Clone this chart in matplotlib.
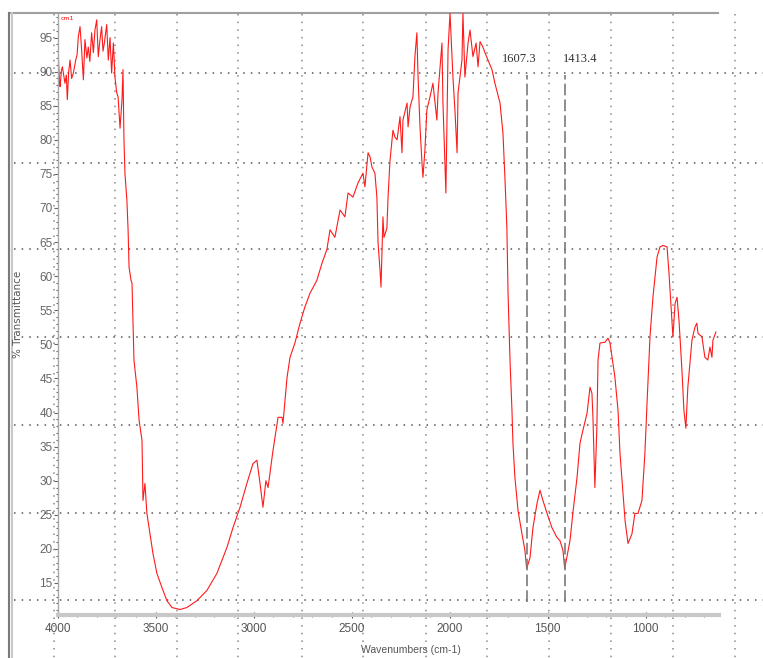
import matplotlib
matplotlib.use("Agg")
import matplotlib.pyplot as plt
from matplotlib.lines import Line2D
from matplotlib.ticker import MultipleLocator

# FTIR spectrum (wavenumber in cm-1, % transmittance)
wavenumber = [3998, 3995, 3990, 3987, 3980, 3975, 3962, 3955, 3950, 3943, 3936, 3928,
              3919, 3907, 3900, 3894, 3885, 3877, 3868, 3860, 3850, 3843, 3835, 3826,
              3817, 3809, 3800, 3792, 3784, 3775, 3768, 3761, 3749, 3741, 3732, 3724,
              3715, 3707, 3698, 3691, 3681, 3671, 3666, 3661, 3656, 3646, 3640, 3635,
              3625, 3620, 3615, 3610, 3595, 3584, 3569, 3564, 3554, 3544, 3528, 3513,
              3493, 3467, 3442, 3416, 3375, 3340, 3289, 3238, 3187, 3136, 3105, 3069,
              3034, 3003, 2983, 2967, 2952, 2937, 2926, 2901, 2875, 2855, 2850, 2829,
              2814, 2789, 2763, 2738, 2712, 2677, 2651, 2626, 2610, 2585, 2559, 2534,
              2518, 2493, 2467, 2442, 2432, 2416, 2406, 2396, 2381, 2371, 2365, 2355,
              2350, 2340, 2335, 2320, 2314, 2304, 2289, 2279, 2268, 2253, 2243, 2238,
              2217, 2212, 2202, 2187, 2177, 2167, 2161, 2151, 2141, 2136, 2126, 2116,
              2100, 2085, 2065, 2059, 2039, 2034, 2019, 2008, 1998, 1983, 1973, 1962,
              1957, 1937, 1932, 1922, 1906, 1896, 1881, 1865, 1855, 1845, 1830, 1820,
              1804, 1784, 1769, 1743, 1728, 1718, 1708, 1702, 1692, 1682, 1677, 1667,
              1651, 1631, 1616, 1607, 1590, 1575, 1554, 1539, 1524, 1503, 1478, 1453,
              1437, 1422, 1413, 1386, 1370, 1350, 1335, 1320, 1299, 1284, 1274, 1269,
              1259, 1249, 1243, 1233, 1208, 1192, 1182, 1157, 1141, 1131, 1105, 1090,
              1070, 1055, 1039, 1019, 1004, 993, 978, 963, 942, 927, 912, 891,
              881, 866, 861, 850, 840, 830, 815, 805, 795, 785, 764, 749,
              739, 733, 713, 698, 683, 672, 662, 657, 642]
transmittance = [90.0, 91.7, 88.5, 87.8, 90.2, 90.7, 88.3, 89.5, 85.9, 90.0, 91.7, 89.0,
                 89.8, 91.7, 92.5, 95.1, 96.6, 93.2, 88.8, 94.7, 92.0, 93.6, 91.5, 95.7,
                 92.8, 96.1, 97.6, 92.2, 94.5, 96.6, 93.0, 94.2, 96.9, 91.7, 95.0, 89.8,
                 94.2, 89.2, 86.9, 86.3, 81.7, 85.9, 90.3, 80.0, 75.1, 71.1, 66.8, 61.3,
                 59.4, 59.0, 53.5, 47.7, 43.7, 38.9, 35.9, 27.1, 29.6, 25.2, 22.2, 19.3,
                 16.4, 14.3, 12.4, 11.4, 11.1, 11.4, 12.4, 13.9, 16.4, 20.2, 23.1, 26.1,
                 29.6, 32.5, 33.0, 29.6, 26.1, 30.0, 29.0, 34.4, 39.3, 39.3, 38.4, 45.2,
                 48.1, 50.2, 53.1, 55.5, 57.5, 59.4, 61.9, 63.9, 66.8, 65.7, 69.7, 68.7,
                 72.2, 71.6, 73.7, 75.1, 73.1, 78.1, 77.5, 76.0, 75.1, 71.6, 64.9, 60.9,
                 58.4, 68.7, 65.7, 67.0, 71.6, 77.0, 81.4, 80.4, 80.0, 83.4, 78.1, 82.9,
                 85.4, 81.9, 84.8, 86.3, 92.2, 95.7, 89.2, 81.9, 76.6, 74.5, 78.5, 84.4,
                 86.3, 88.3, 82.9, 86.9, 94.2, 85.4, 72.2, 93.2, 98.6, 89.2, 84.4, 78.1,
                 86.9, 91.7, 98.6, 89.2, 94.2, 96.1, 92.2, 94.2, 90.7, 94.4, 93.6, 92.8,
                 91.7, 90.3, 88.3, 85.4, 81.0, 74.5, 67.2, 57.5, 47.7, 40.3, 35.5, 30.5,
                 25.6, 22.2, 19.8, 17.1, 18.7, 23.1, 26.7, 28.6, 27.1, 25.2, 23.1, 21.7,
                 21.2, 19.8, 17.1, 21.2, 25.6, 30.5, 35.5, 37.4, 39.9, 43.7, 42.8, 39.3,
                 29.0, 37.8, 47.7, 50.2, 50.3, 50.9, 50.2, 45.2, 40.3, 34.0, 24.1, 20.8,
                 22.2, 25.2, 25.2, 27.1, 34.0, 41.4, 51.1, 56.9, 62.8, 64.3, 64.5, 64.3,
                 60.4, 53.5, 51.1, 56.0, 56.9, 53.5, 46.2, 40.3, 37.7, 43.7, 50.6, 52.5,
                 53.1, 51.6, 51.1, 48.1, 47.7, 49.6, 48.1, 50.6, 51.8]

peaks = [1607.3, 1413.4]
peak_labels = ["1607.3", "1413.4"]
yticks = list(range(15, 100, 5))
xticks = [4000, 3500, 3000, 2500, 2000, 1500, 1000]

W, H = 763, 658
fig = plt.figure(figsize=(W / 100, H / 100), dpi=100)
fig.patch.set_facecolor("white")

def fx(px):
    return px / W

def fy(py):
    return 1 - py / H

# window frame
fig.add_artist(Line2D([fx(9), fx(718)], [fy(13), fy(13)], color="#a0a0a0", lw=1.5, zorder=-1))
fig.add_artist(Line2D([fx(9), fx(9)], [fy(13), 0], color="#7a7a7a", lw=1.5, zorder=-1))
fig.add_artist(Line2D([fx(11.5), fx(11.5)], [fy(13), 0], color="#c8c8c8", lw=1.5, zorder=-1))

# dotted overlay grid covering the whole window
for px in [54, 115, 177, 238, 302, 363, 426, 487, 549, 611, 673, 735]:
    fig.add_artist(Line2D([fx(px), fx(px)], [fy(14), 0], color="#8a8a8a", lw=1.1,
                          linestyle=(0, (1, 4)), zorder=-1))
for py in [73, 163, 249, 337, 425, 513, 600]:
    fig.add_artist(Line2D([fx(14), 1], [fy(py), fy(py)], color="#555555", lw=1.1,
                          linestyle=(0, (1, 4)), zorder=-1))

ax = fig.add_axes([fx(57.5), fy(615), fx(719) - fx(57.5), fy(13) - fy(615)])
ax.patch.set_visible(False)

ax.plot(wavenumber, transmittance, color="#ff1a1a", lw=0.8)

for p in peaks:
    ax.plot([p, p], [12.2, 89.5], color="#7a7a7a", lw=1.2, linestyle=(0, (7, 2.5)))
ax.text(1646, 91.9, peak_labels[0], ha="center", va="center", fontsize=9,
        family="Liberation Serif", color="#333333")
ax.text(1333, 91.9, peak_labels[1], ha="center", va="center", fontsize=9,
        family="Liberation Serif", color="#333333")
ax.text(3985, 97.8, "cm1", fontsize=4.5, color="red", va="center")

ax.set_xlim(4000, 626)
ax.set_ylim(10.3, 98.6)
ax.set_xticks(xticks)
ax.set_yticks(yticks)
ax.xaxis.set_minor_locator(MultipleLocator(100))
ax.yaxis.set_minor_locator(MultipleLocator(1))

for s in ["top", "right"]:
    ax.spines[s].set_visible(False)
ax.spines["left"].set_color("#a8a8a8")
ax.spines["left"].set_linewidth(1.0)
ax.spines["bottom"].set_color("#c8c8c8")
ax.spines["bottom"].set_linewidth(3.0)

tick_font = ["Liberation Sans Narrow", "Liberation Sans", "DejaVu Sans"]
ax.tick_params(axis="y", which="major", length=3, width=0.8, color="#666666",
               labelcolor="#666666", labelsize=8.5, pad=0.5)
ax.tick_params(axis="y", which="minor", length=1.5, width=0.8, color="#666666")
ax.tick_params(axis="x", which="major", length=4, width=0.8, direction="inout",
               color="#555555", labelcolor="#555555", labelsize=8.5, pad=4)
ax.tick_params(axis="x", which="minor", length=3, width=0.8, direction="inout",
               color="#777777")
for lab in ax.get_xticklabels() + ax.get_yticklabels():
    lab.set_family(tick_font)

fig.text(fx(411), fy(650), "Wavenumbers (cm-1)", ha="center", va="center",
         fontsize=7.5, color="#555555", family=tick_font)
fig.text(fx(18), fy(314), "% Transmittance", ha="center", va="center", rotation=90,
         fontsize=7.5, color="#555555")

fig.savefig("out.png", dpi=100)
